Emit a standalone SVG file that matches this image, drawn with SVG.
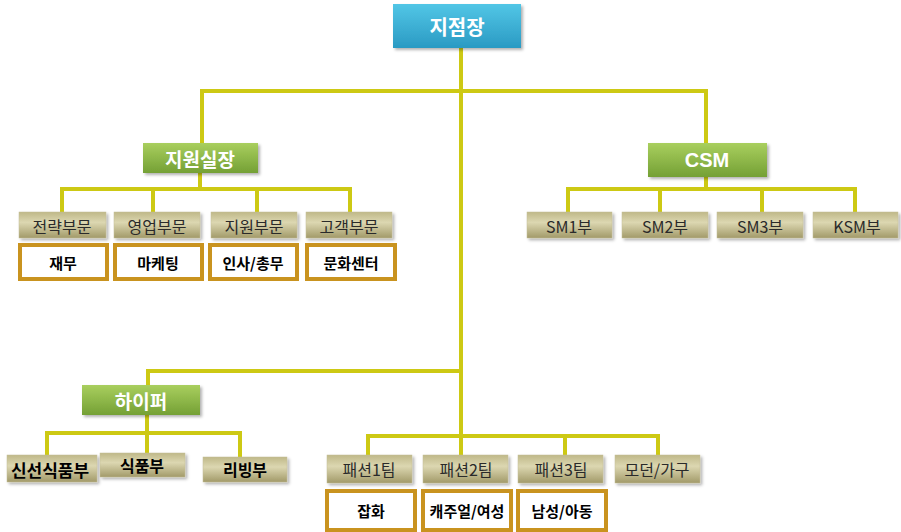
<svg xmlns="http://www.w3.org/2000/svg" width="901" height="532" viewBox="0 0 901 532">
<defs>
<linearGradient id="gBlue" x1="0" y1="0" x2="0" y2="1">
<stop offset="0" stop-color="#52c6e6"/><stop offset="1" stop-color="#2a9ac3"/>
</linearGradient>
<linearGradient id="gGreen" x1="0" y1="0" x2="0" y2="1">
<stop offset="0" stop-color="#a9cf5e"/><stop offset="1" stop-color="#74a035"/>
</linearGradient>
<linearGradient id="gBeige" x1="0" y1="0" x2="0" y2="1">
<stop offset="0" stop-color="#bfb888"/><stop offset="0.4" stop-color="#dcd7b1"/><stop offset="1" stop-color="#a29a69"/>
</linearGradient>
<filter id="sh" x="-10%" y="-20%" width="130%" height="160%">
<feDropShadow dx="2" dy="2" stdDeviation="1.5" flood-color="#000" flood-opacity="0.3"/>
</filter>
</defs>
<style>
.ln{stroke:#cdc914;stroke-width:4;fill:none;stroke-linecap:square}
.top{fill:url(#gBlue);filter:url(#sh)}
.mid{fill:url(#gGreen);filter:url(#sh)}
.bg{fill:url(#gBeige);stroke:#c4bf98;stroke-width:0.5;filter:url(#sh)}
.ob{fill:#fff;stroke:#c9931f;stroke-width:4}
.tw{font-family:"Noto Sans CJK KR","Liberation Sans",sans-serif;font-weight:bold;font-size:19px;fill:#fff;text-anchor:middle;dominant-baseline:central}
.tb{font-family:"Noto Sans CJK KR","Liberation Sans",sans-serif;font-size:16px;fill:#2a2a2a;text-anchor:middle;dominant-baseline:central}
.tk{font-family:"Noto Sans CJK KR","Liberation Sans",sans-serif;font-weight:bold;font-size:15px;fill:#000;text-anchor:middle;dominant-baseline:central}
</style>
<g id="connectors">
<path class="ln" d="M461 48 V457"/>
<path class="ln" d="M202 143 V91 H706 V143"/>
<path class="ln" d="M200 173 V189"/>
<path class="ln" d="M62 212 V189 H350 V212"/>
<path class="ln" d="M153 189 V212 M257 189 V212"/>
<path class="ln" d="M706 177 V189"/>
<path class="ln" d="M568 212 V189 H855 V212"/>
<path class="ln" d="M660 189 V212 M762 189 V212"/>
<path class="ln" d="M461 371 H148 V385"/>
<path class="ln" d="M147 415 V433"/>
<path class="ln" d="M47 455 V433 H240 V457"/>
<path class="ln" d="M147 433 V453"/>
<path class="ln" d="M368 457 V436 H658 V457"/>
<path class="ln" d="M565 436 V457"/>
</g>
<g id="n-jijeomjang"><rect class="top" x="393" y="4" width="128" height="44"/><text class="tw" x="457" y="26" style="font-size:20px">지점장</text></g>
<g id="n-jiwonsiljang"><rect class="mid" x="143" y="143" width="115" height="30"/><text class="tw" x="200" y="158">지원실장</text></g>
<g id="n-csm"><rect class="mid" x="648" y="143" width="119" height="34"/><text class="tw" x="707" y="160" style="font-family:'Liberation Sans',sans-serif;font-size:20px">CSM</text></g>
<g id="n-jeollyak"><rect class="bg" x="19" y="212" width="87" height="26"/><text class="tb" x="62" y="226">전략부문</text></g>
<g id="n-yeongeop"><rect class="bg" x="114" y="212" width="86" height="26"/><text class="tb" x="157" y="226">영업부문</text></g>
<g id="n-jiwon"><rect class="bg" x="211" y="212" width="86" height="26"/><text class="tb" x="254" y="226">지원부문</text></g>
<g id="n-gogaek"><rect class="bg" x="306" y="212" width="86" height="26"/><text class="tb" x="349" y="226">고객부문</text></g>
<g id="n-jaemu"><rect class="ob" x="20" y="245" width="87" height="34"/><text class="tk" x="63" y="262">재무</text></g>
<g id="n-marketing"><rect class="ob" x="115" y="245" width="87" height="34"/><text class="tk" x="158" y="262">마케팅</text></g>
<g id="n-insa"><rect class="ob" x="210" y="245" width="87" height="34"/><text class="tk" x="253" y="262">인사/총무</text></g>
<g id="n-munhwa"><rect class="ob" x="307" y="245" width="88" height="34"/><text class="tk" x="351" y="262">문화센터</text></g>
<g id="n-sm1"><rect class="bg" x="527" y="212" width="85" height="26"/><text class="tb" x="569" y="226">SM1부</text></g>
<g id="n-sm2"><rect class="bg" x="622" y="212" width="86" height="26"/><text class="tb" x="665" y="226">SM2부</text></g>
<g id="n-sm3"><rect class="bg" x="717" y="212" width="86" height="26"/><text class="tb" x="760" y="226">SM3부</text></g>
<g id="n-ksm"><rect class="bg" x="813" y="212" width="85" height="26"/><text class="tb" x="857" y="226">KSM부</text></g>
<g id="n-hyper"><rect class="mid" x="82" y="385" width="118" height="30"/><text class="tw" x="141" y="400">하이퍼</text></g>
<g id="n-sinseon"><rect class="bg" x="7" y="455" width="90" height="27"/><text class="tk" x="50" y="469" style="font-size:17px">신선식품부</text></g>
<g id="n-sikpum"><rect class="bg" x="100" y="453" width="85" height="24"/><text class="tk" x="142" y="465" style="font-size:16px">식품부</text></g>
<g id="n-living"><rect class="bg" x="203" y="457" width="84" height="25"/><text class="tk" x="245" y="469" style="font-size:16px">리빙부</text></g>
<g id="n-fashion1"><rect class="bg" x="327" y="455" width="85" height="28"/><text class="tb" x="369" y="469">패션1팀</text></g>
<g id="n-fashion2"><rect class="bg" x="423" y="455" width="85" height="28"/><text class="tb" x="466" y="469">패션2팀</text></g>
<g id="n-fashion3"><rect class="bg" x="518" y="455" width="85" height="28"/><text class="tb" x="561" y="469">패션3팀</text></g>
<g id="n-modern"><rect class="bg" x="615" y="455" width="85" height="28"/><text class="tb" x="657" y="469">모던/가구</text></g>
<g id="n-japhwa"><rect class="ob" x="327" y="491" width="88" height="39"/><text class="tk" x="371" y="510">잡화</text></g>
<g id="n-casual"><rect class="ob" x="423" y="491" width="88" height="39"/><text class="tk" x="467" y="510">캐주얼/여성</text></g>
<g id="n-nam"><rect class="ob" x="518" y="491" width="88" height="39"/><text class="tk" x="562" y="510">남성/아동</text></g>
</svg>
